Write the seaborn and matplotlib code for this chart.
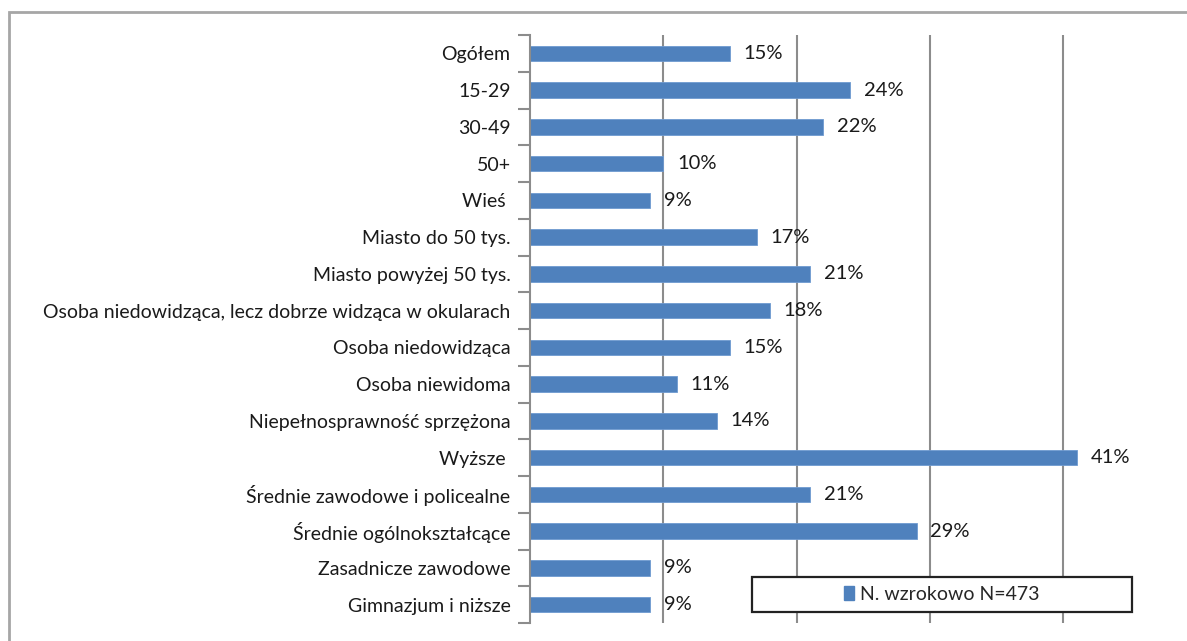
import matplotlib
matplotlib.use("Agg")
import matplotlib.pyplot as plt
import matplotlib.patches as mpatches
import seaborn as sns
import pandas as pd

# Data
categories = [
    "Ogółem", "15-29", "30-49", "50+", "Wieś ",
    "Miasto do 50 tys.", "Miasto powyżej 50 tys.",
    "Osoba niedowidząca, lecz dobrze widząca w okularach",
    "Osoba niedowidząca", "Osoba niewidoma", "Niepełnosprawność sprzężona",
    "Wyższe ", "Średnie zawodowe i policealne", "Średnie ogólnokształcące",
    "Zasadnicze zawodowe", "Gimnazjum i niższe",
]
values = [15, 24, 22, 10, 9, 17, 21, 18, 15, 11, 14, 41, 21, 29, 9, 9]
series_name = "N. wzrokowo N=473"

df = pd.DataFrame({"kategoria": categories, "wartosc": values})

sns.set_style("white")
plt.rcParams["font.family"] = ["Lato", "DejaVu Sans"]

W, H = 1187, 641
fig = plt.figure(figsize=(W / 100, H / 100), dpi=100)

# outer chart frame (right and bottom fall outside the crop)
fig.patches.append(mpatches.Rectangle((9 / W, -0.05), 1.1, 1 - 12 / H + 0.05,
                                      transform=fig.transFigure, fill=False,
                                      edgecolor="#a6a6a6", linewidth=2))

left, right = 530 / W, 1196.5 / W
top, bottom = 1 - 35 / H, 1 - 623 / H
ax = fig.add_axes([left, bottom, right - left, top - bottom])

bar_color = "#4f81bd"
sns.barplot(data=df, x="wartosc", y="kategoria", color=bar_color, width=0.42,
            saturation=1, edgecolor="#6f9ad0", linewidth=0.6, ax=ax)

ax.set_xlim(0, 50)
ax.set_ylim(len(categories) - 0.5, -0.5)
ax.set_xticks([10, 20, 30, 40])
ax.xaxis.grid(True, color="#8c8c8c", linewidth=1.5)
ax.set_axisbelow(True)
ax.tick_params(axis="x", length=0, labelbottom=False)
ax.set_xlabel("")
ax.set_ylabel("")

# y axis: labels at centres, ticks at category boundaries
ax.set_yticks(range(len(categories)))
ax.set_yticklabels(categories, fontsize=14, color="#1a1a1a")
ax.set_yticks([i - 0.5 for i in range(len(categories) + 1)], minor=True)
ax.tick_params(axis="y", which="major", length=0, pad=14)
ax.tick_params(axis="y", which="minor", length=9, width=1.5, color="#8c8c8c",
               left=True)

for side in ["top", "right", "bottom"]:
    ax.spines[side].set_visible(False)
ax.spines["left"].set_color("#8c8c8c")
ax.spines["left"].set_linewidth(1.5)

ax.bar_label(ax.containers[0], labels=[f"{v}%" for v in values], padding=10,
             fontsize=14.5, color="#1a1a1a")

# legend box
lx0, lx1, ly0, ly1 = 752, 1132, 577, 612
fig.patches.append(mpatches.Rectangle((lx0 / W, 1 - ly1 / H), (lx1 - lx0) / W,
                                      (ly1 - ly0) / H, transform=fig.transFigure,
                                      facecolor="white", edgecolor="#222222",
                                      linewidth=1.6, zorder=5))
handle = mpatches.Patch(color=bar_color, label=series_name)
leg = fig.legend(handles=[handle], loc="center",
                 bbox_to_anchor=((lx0 + lx1) / 2 / W, 1 - (ly0 + ly1) / 2 / H),
                 frameon=False, fontsize=14, handlelength=0.5,
                 handleheight=0.7, handletextpad=0.3)
leg.set_zorder(6)

fig.savefig("out.png", dpi=100)
